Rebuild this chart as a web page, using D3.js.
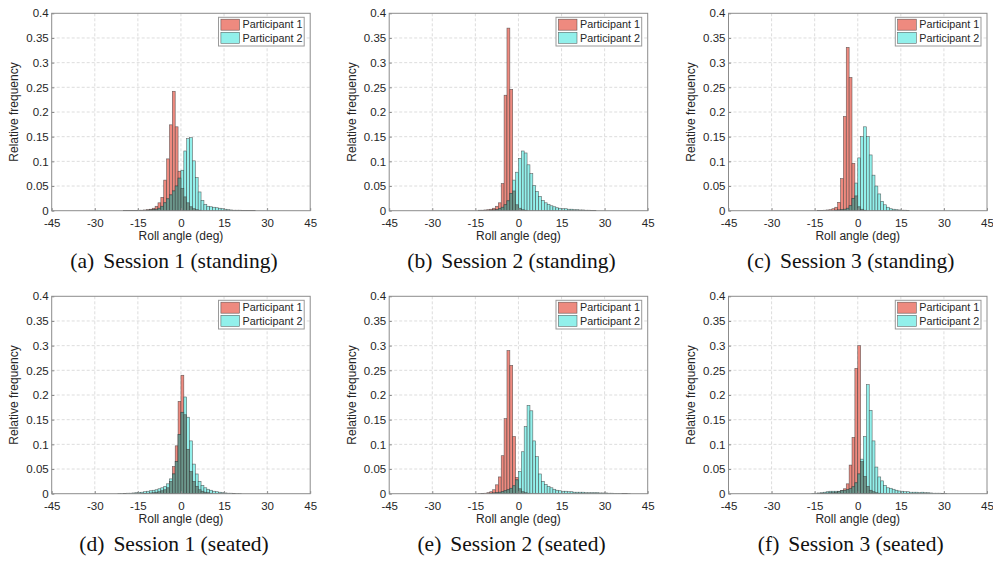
<!DOCTYPE html>
<html><head><meta charset="utf-8">
<script src="https://cdn.jsdelivr.net/npm/d3@7"></script>
<style>body{margin:0;background:#fff}svg{display:block}</style>
</head><body>
<svg id="chart" width="993" height="562"></svg>
<script>
// ---------- data ----------
const xTicks = [-45, -30, -15, 0, 15, 30, 45];
const yTicks = [0, 0.05, 0.1, 0.15, 0.2, 0.25, 0.3, 0.35, 0.4];
const yTickLabels = ["0", "0.05", "0.1", "0.15", "0.2", "0.25", "0.3", "0.35", "0.4"];
const seriesNames = ["Participant 1", "Participant 2"];
const xLabel = "Roll angle (deg)";
const yLabel = "Relative frequency";
const captionTags = ["(a)", "(b)", "(c)", "(d)", "(e)", "(f)"];
const captionTexts = ["Session 1 (standing)", "Session 2 (standing)", "Session 3 (standing)",
                      "Session 1 (seated)", "Session 2 (seated)", "Session 3 (seated)"];
const binWidth = 1;

// first bin left edge (deg) of each series, per panel a..f
const p1Start = [-20, -14, -14, -14, -14, -14];
const p2Start = [-12, -10, -8, -22, -10, -16];

// Participant 1 relative frequencies (1-degree bins)
const p1a = [0.0005,0.0005,0.0005,0.0008,0.0008,0.001,0.001,0.0015,0.002,0.003,0.005,0.009,0.016,0.027,0.062,0.105,0.174,0.242,0.170,0.080,0.045,0.028,0.016,0.008,0.004,0.002,0.001];
const p1b = [0.001,0.001,0.0015,0.002,0.003,0.005,0.009,0.016,0.055,0.234,0.370,0.246,0.040,0.012,0.005,0.002,0.001];
const p1c = [0.0005,0.0008,0.001,0.0015,0.002,0.004,0.007,0.017,0.065,0.191,0.331,0.270,0.096,0.030,0.008,0.003,0.001];
const p1d = [0.0005,0.0008,0.001,0.0015,0.002,0.003,0.004,0.006,0.008,0.012,0.025,0.055,0.097,0.187,0.240,0.160,0.090,0.045,0.025,0.015,0.008,0.005,0.003,0.002,0.001];
const p1e = [0.0005,0.0008,0.001,0.002,0.004,0.008,0.018,0.034,0.077,0.152,0.290,0.260,0.116,0.033,0.010,0.004,0.002,0.001];
const p1f = [0.0005,0.0008,0.001,0.0015,0.002,0.002,0.003,0.004,0.006,0.010,0.020,0.058,0.114,0.254,0.300,0.065,0.035,0.015,0.007,0.004,0.002,0.001];

// Participant 2 relative frequencies (1-degree bins)
const p2a = [0.001,0.0015,0.002,0.003,0.005,0.009,0.016,0.024,0.032,0.040,0.050,0.066,0.082,0.121,0.146,0.148,0.101,0.067,0.038,0.021,0.013,0.009,0.008,0.007,0.006,0.005,0.004,0.003,0.002,0.0015,0.001,0.001,0.001,0.0008,0.0006,0.0005,0.0005,0.0005];
const p2b = [0.001,0.0015,0.002,0.004,0.007,0.012,0.020,0.035,0.062,0.078,0.106,0.121,0.117,0.093,0.075,0.051,0.039,0.029,0.021,0.016,0.013,0.010,0.008,0.006,0.005,0.004,0.004,0.003,0.003,0.002,0.002,0.0015,0.0015,0.001,0.001,0.0008,0.0005];
const p2c = [0.001,0.0015,0.002,0.003,0.005,0.010,0.025,0.056,0.107,0.150,0.170,0.150,0.113,0.072,0.050,0.034,0.019,0.012,0.007,0.004,0.003,0.002,0.0015,0.001,0.001,0.0005];
const p2d = [0.0005,0.0005,0.0008,0.001,0.001,0.0015,0.002,0.0025,0.003,0.004,0.005,0.006,0.007,0.008,0.010,0.012,0.015,0.020,0.030,0.040,0.065,0.120,0.165,0.196,0.155,0.107,0.060,0.040,0.025,0.017,0.012,0.009,0.007,0.005,0.004,0.003,0.002,0.0015,0.001,0.001,0.0008,0.0005,0.0005];
const p2e = [0.001,0.0015,0.002,0.003,0.004,0.006,0.008,0.011,0.016,0.028,0.045,0.085,0.136,0.179,0.168,0.107,0.075,0.040,0.025,0.019,0.015,0.012,0.009,0.007,0.006,0.005,0.005,0.004,0.004,0.003,0.003,0.003,0.003,0.002,0.002,0.002,0.002,0.002,0.0015,0.0015,0.0015,0.001,0.001,0.0005,0.0005,0.0005,0.0008,0.0008,0.0005];
const p2f = [0.0005,0.001,0.0015,0.002,0.003,0.004,0.005,0.005,0.005,0.005,0.006,0.007,0.008,0.010,0.014,0.022,0.040,0.070,0.116,0.221,0.169,0.107,0.054,0.034,0.026,0.017,0.012,0.011,0.009,0.007,0.0055,0.005,0.004,0.004,0.003,0.003,0.003,0.002,0.003,0.002,0.002,0.0015,0.001,0.001,0.001,0.0008,0.0005];

const p1Values = [p1a, p1b, p1c, p1d, p1e, p1f];
const p2Values = [p2a, p2b, p2c, p2d, p2e, p2f];

// ---------- layout / style ----------
const W = 258.5, H = 197.4;
const lefts = [51.7, 389.2, 728.5];
const tops = [13.3, 296.3];
const captionX = [174, 511.5, 850.7];
const captionY = [268, 551];
const COL1 = "#ee8a7f", COL2 = "#92f0eb", COLO = "#6b968b";
const EDGE = "rgba(55,55,55,0.75)";
const AX = "#8c8c8c";
const TXT = "#262626";
const SANS = "'Liberation Sans', Arial, Helvetica, sans-serif";
const SERIF = "'Liberation Serif', 'Times New Roman', serif";

const svg = d3.select("#chart");

function makeBins(start, vals) {
  return vals.map((v, k) => ({ x0: start + k * binWidth, x1: start + (k + 1) * binWidth, v }));
}

for (let i = 0; i < 6; i++) {
  const col = i % 3, row = Math.floor(i / 3);
  const g = svg.append("g").attr("transform", `translate(${lefts[col]},${tops[row]})`);
  const x = d3.scaleLinear().domain([-45, 45]).range([0, W]);
  const y = d3.scaleLinear().domain([0, 0.4]).range([H, 0]);

  // grid
  g.append("g").selectAll("line").data(xTicks.slice(1, -1)).join("line")
    .attr("x1", d => x(d)).attr("x2", d => x(d)).attr("y1", 0).attr("y2", H)
    .attr("stroke", "#d4d4d4").attr("stroke-width", 0.8).attr("stroke-dasharray", "3,2");
  g.append("g").selectAll("line").data(yTicks.slice(1, -1)).join("line")
    .attr("y1", d => y(d)).attr("y2", d => y(d)).attr("x1", 0).attr("x2", W)
    .attr("stroke", "#d4d4d4").attr("stroke-width", 0.8).attr("stroke-dasharray", "3,2");

  const b1 = makeBins(p1Start[i], p1Values[i]);
  const b2 = makeBins(p2Start[i], p2Values[i]);
  const m2 = new Map(b2.map(d => [d.x0, d.v]));
  const bo = b1.filter(d => m2.has(d.x0)).map(d => ({ x0: d.x0, x1: d.x1, v: Math.min(d.v, m2.get(d.x0)) }));

  function drawBars(data, fill) {
    g.append("g").selectAll("rect").data(data).join("rect")
      .attr("x", d => x(d.x0)).attr("width", d => x(d.x1) - x(d.x0))
      .attr("y", d => y(d.v)).attr("height", d => y(0) - y(d.v))
      .attr("fill", fill).attr("stroke", EDGE).attr("stroke-width", 0.6);
  }
  drawBars(b1, COL1);
  drawBars(b2, COL2);
  drawBars(bo, COLO);

  // box
  g.append("rect").attr("x", 0).attr("y", 0).attr("width", W).attr("height", H)
    .attr("fill", "none").attr("stroke", AX).attr("stroke-width", 1);

  // axes
  const xa = g.append("g").attr("transform", `translate(0,${H})`)
    .call(d3.axisBottom(x).tickValues(xTicks).tickFormat(d => String(d))
      .tickSizeInner(-2.6).tickSizeOuter(0).tickPadding(8.6));
  const ya = g.append("g")
    .call(d3.axisLeft(y).tickValues(yTicks).tickFormat((d, k) => yTickLabels[k])
      .tickSizeInner(-2.6).tickSizeOuter(0).tickPadding(3));
  [xa, ya].forEach(a => {
    a.select(".domain").remove();
    a.selectAll(".tick line").attr("stroke", AX);
    a.selectAll(".tick text").attr("fill", TXT).style("font-family", SANS).style("font-size", "11.5px");
  });

  // axis labels
  g.append("text").attr("x", W / 2).attr("y", H + 29.5).attr("text-anchor", "middle")
    .style("font-family", SANS).style("font-size", "12px").attr("fill", TXT).text(xLabel);
  g.append("text").attr("transform", `translate(-33.3,${H / 2}) rotate(-90)`)
    .attr("text-anchor", "middle")
    .style("font-family", SANS).style("font-size", "12px").attr("fill", TXT).text(yLabel);

  // legend
  const lg = g.append("g").attr("transform", `translate(${W - 91.7},4)`);
  lg.append("rect").attr("width", 85.7).attr("height", 28.7)
    .attr("fill", "#fff").attr("stroke", "#9a9a9a").attr("stroke-width", 1);
  [COL1, COL2].forEach((c, k) => {
    const cy = 7.4 + k * 13.1;
    lg.append("rect").attr("x", 2.4).attr("y", cy - 5.5).attr("width", 18.6).attr("height", 11)
      .attr("fill", c).attr("stroke", EDGE).attr("stroke-width", 0.6);
    lg.append("text").attr("x", 24).attr("y", cy + 3.8)
      .style("font-family", SANS).style("font-size", "10.8px").attr("fill", TXT).text(seriesNames[k]);
  });

  // caption
  const cap = svg.append("text").attr("x", captionX[col]).attr("y", captionY[row])
    .attr("text-anchor", "middle").style("font-family", SERIF).style("font-size", "21.5px").attr("fill", "#111");
  cap.append("tspan").text(captionTags[i]);
  cap.append("tspan").attr("dx", 9).text(captionTexts[i]);
}
</script></body></html>
